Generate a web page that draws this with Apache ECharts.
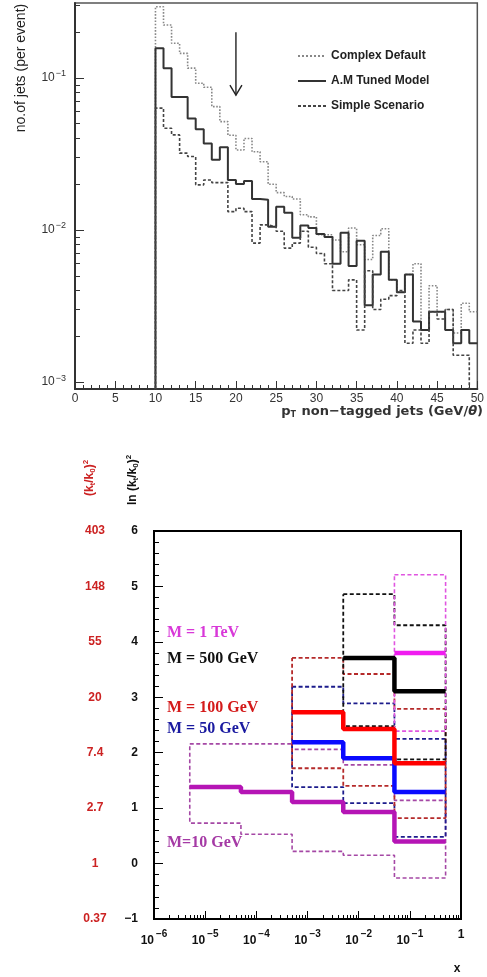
<!DOCTYPE html>
<html>
<head>
<meta charset="utf-8">
<script src="https://cdn.jsdelivr.net/npm/echarts@6/dist/echarts.min.js"></script>
<style>
  html, body { margin: 0; padding: 0; background: #fff; }
  #chart { width: 487px; height: 977px; }
</style>
</head>
<body>
<div id="chart"></div>
<script>
// ---- top panel: pT of non-tagged jets, 1 GeV bins starting at 10 GeV
const ptStart = 10;
const ptBinWidth = 1;
const seriesNames = ['Complex Default', 'A.M Tuned Model', 'Simple Scenario'];
const complexDefault = [0.294, 0.223, 0.169, 0.145, 0.116, 0.0923, 0.0869, 0.0648, 0.0516, 0.042,
  0.0336, 0.040, 0.0327, 0.0281, 0.020, 0.0176, 0.0166, 0.016, 0.0126, 0.0122,
  0.0093, 0.0093, 0.0086, 0.0072, 0.0103, 0.0080, 0.0064, 0.0092, 0.0102, 0.0047,
  0.0039, 0.0051, 0.0060, 0.0022, 0.0043, 0.0029, 0.0030, 0.0021, 0.0033, 0.0029];
const tunedModel = [0.157, 0.116, 0.075, 0.075, 0.054, 0.046, 0.037, 0.029, 0.035, 0.0213,
  0.0201, 0.021, 0.016, 0.0158, 0.0105, 0.0142, 0.013, 0.0089, 0.0107, 0.0103,
  0.0094, 0.0090, 0.0060, 0.0096, 0.0058, 0.0085, 0.0032, 0.0051, 0.0072, 0.0047,
  0.0039, 0.0051, 0.0025, 0.0022, 0.0029, 0.0029, 0.0022, 0.0018, 0.0022, 0.0018];
const simpleScenario = [0.0633, 0.0467, 0.0422, 0.032, 0.0304, 0.0198, 0.0213, 0.0205, 0.0205, 0.0132,
  0.0139, 0.0132, 0.0082, 0.0108, 0.0105, 0.0098, 0.0076, 0.0082, 0.0098, 0.0077,
  0.0070, 0.0060, 0.0040, 0.0040, 0.0047, 0.0022, 0.0054, 0.0030, 0.0035, 0.0037,
  0.0040, 0.0018, 0.0022, 0.0018, 0.0029, 0.0026, 0.0030, 0.0015, 0.0015, 0.0005];
const emptyBin = 1e-4;           // empty bins lie below the axis
const arrowMark = [20, 0.2, 0.077]; // x, tail, tip

// ---- bottom panel: ln(kt/k0)^2 vs x, bins are decades shifted by 5
const xEdges = [5e-6, 5e-5, 5e-4, 5e-3, 5e-2, 0.5];
const m10Centre = [1.38, 1.29, 1.11, 0.93, 0.40];
const m10Upper = [2.16, 2.16, 2.06, 1.78, 1.14];
const m10Lower = [0.73, 0.53, 0.22, 0.15, -0.26];
const m50Centre = [null, null, 2.19, 1.90, 1.29];
const m50Upper = [null, null, 3.19, 2.89, 2.25];
const m50Lower = [null, null, 1.38, 1.09, 0.48];
const m100Centre = [null, null, 2.73, 2.43, 1.81];
const m100Upper = [null, null, 3.71, 3.42, 2.79];
const m100Lower = [null, null, 1.72, 1.40, 0.82];
const m500Centre = [null, null, null, 3.71, 3.11];
const m500Upper = [null, null, null, 4.86, 4.30];
const m500Lower = [null, null, null, 2.48, 1.88];
const m1000Centre = [null, null, null, null, 3.80];
const m1000Upper = [null, null, null, null, 5.21];
const m1000Lower = [null, null, null, null, 2.39];
const expLabels = ['0.37', '1', '2.7', '7.4', '20', '55', '148', '403'];

// ---- helpers
function histPoints(values) {
  const pts = [[ptStart, emptyBin]];
  values.forEach((v, i) => pts.push([ptStart + i * ptBinWidth, v]));
  pts.push([ptStart + values.length * ptBinWidth, values[values.length - 1]]);
  return pts;
}
function centrePoints(vals) {
  const pts = [];
  let last = 0;
  vals.forEach((v, i) => { if (v != null) { pts.push([xEdges[i], v]); last = i; } });
  pts.push([xEdges[last + 1], vals[last]]);
  return pts;
}
function bandPoints(up, lo) {
  const idx = [];
  up.forEach((v, i) => { if (v != null) idx.push(i); });
  const pts = [];
  idx.forEach(i => pts.push([xEdges[i], up[i]], [xEdges[i + 1], up[i]]));
  idx.slice().reverse().forEach(i => pts.push([xEdges[i + 1], lo[i]], [xEdges[i], lo[i]]));
  pts.push([xEdges[idx[0]], up[idx[0]]]);
  return pts;
}
function decades(lo, hi) {
  const out = [];
  for (let e = lo; e <= hi; e++) out.push(Math.pow(10, e));
  return out;
}
function minors(lo, hi) {
  const out = [];
  for (let e = lo; e <= hi; e++) for (let k = 2; k <= 9; k++) out.push(k * Math.pow(10, e));
  return out;
}
function powLabel(v) {
  const e = Math.round(Math.log10(v));
  return e === 0 ? '{b|1}' : '{b|10}{e|' + String(e).replace('-', '\u2212') + '}';
}

const SANS = 'Liberation Sans';
const WIDE = 'DejaVu Sans';
const topMin = 0.0009, topMax = 0.311;

const chart = echarts.init(document.getElementById('chart'));

function band(up, lo, color, width) {
  return {
    type: 'line', xAxisIndex: 1, yAxisIndex: 2, data: bandPoints(up, lo),
    symbol: 'none', z: 2, silent: true,
    lineStyle: { color: color, width: width || 1.8, type: [4, 2.5] }
  };
}
function centre(vals, color) {
  return {
    type: 'line', xAxisIndex: 1, yAxisIndex: 2, data: centrePoints(vals),
    step: 'end', symbol: 'none', z: 3, silent: true,
    lineStyle: { color: color, width: 4.5 }
  };
}

const option = {
  animation: false,
  backgroundColor: '#fff',
  grid: [
    { left: 75, top: 3, width: 408, height: 386, show: true, borderColor: '#555', borderWidth: 1.5 },
    { left: 154, top: 531, width: 307, height: 388, show: true, borderColor: '#000', borderWidth: 2 }
  ],
  legend: {
    data: seriesNames, orient: 'vertical', left: 292, top: 45,
    itemWidth: 28, itemHeight: 8, itemGap: 13,
    itemStyle: { opacity: 0 },
    textStyle: { fontFamily: SANS, fontWeight: 'bold', fontSize: 12, color: '#222' }
  },
  xAxis: [
    {
      gridIndex: 0, type: 'value', min: 0, max: 50, interval: 5, position: 'bottom',
      axisLine: { onZero: false, lineStyle: { color: '#333', width: 2 } },
      axisTick: { inside: true, length: 8, lineStyle: { color: '#333' } },
      minorTick: { show: true, splitNumber: 5, length: 4, lineStyle: { color: '#333' } },
      axisLabel: { fontFamily: SANS, fontSize: 12, color: '#333', margin: 4 },
      splitLine: { show: false }
    },
    {
      gridIndex: 1, type: 'log', logBase: 10, min: 1e-6, max: 1, position: 'bottom',
      axisLine: { onZero: false, lineStyle: { color: '#000', width: 2 } },
      axisTick: { inside: true, length: 8, customValues: decades(-6, 0), lineStyle: { color: '#000' } },
      axisLabel: {
        customValues: decades(-6, 0), formatter: powLabel, margin: 10,
        rich: {
          b: { fontFamily: SANS, fontWeight: 'bold', fontSize: 12, color: '#111' },
          e: { fontFamily: SANS, fontWeight: 'bold', fontSize: 10, color: '#111', padding: [0, 0, 14, 2] }
        }
      },
      splitLine: { show: false }
    },
    {
      gridIndex: 1, type: 'log', logBase: 10, min: 1e-6, max: 1, position: 'bottom',
      axisLine: { show: false, onZero: false },
      axisTick: { inside: true, length: 4, customValues: minors(-6, -1), lineStyle: { color: '#000' } },
      axisLabel: { show: false },
      splitLine: { show: false }
    }
  ],
  yAxis: [
    {
      gridIndex: 0, type: 'log', logBase: 10, min: topMin, max: topMax, position: 'left',
      axisLine: { show: true, onZero: false, lineStyle: { color: '#333', width: 2 } },
      axisTick: { show: true, inside: true, length: 9, customValues: decades(-3, -1), lineStyle: { color: '#333' } },
      axisLabel: {
        customValues: decades(-3, -1), formatter: powLabel, margin: 9,
        rich: {
          b: { fontFamily: SANS, fontSize: 12, color: '#333' },
          e: { fontFamily: SANS, fontSize: 9, color: '#333', padding: [0, 0, 8, 1] }
        }
      },
      splitLine: { show: false }
    },
    {
      gridIndex: 0, type: 'log', logBase: 10, min: topMin, max: topMax, position: 'left',
      axisLine: { show: false, onZero: false },
      axisTick: { show: true, inside: true, length: 5, customValues: minors(-4, -1), lineStyle: { color: '#333' } },
      axisLabel: { show: false },
      splitLine: { show: false }
    },
    {
      gridIndex: 1, type: 'value', min: -1, max: 6, interval: 1, position: 'left',
      axisLine: { show: true, onZero: false, lineStyle: { color: '#000', width: 2 } },
      axisTick: { show: true, inside: true, length: 9, lineStyle: { color: '#000' } },
      minorTick: { show: true, splitNumber: 5, length: 5, lineStyle: { color: '#000' } },
      axisLabel: {
        fontFamily: SANS, fontWeight: 'bold', fontSize: 12, color: '#111', margin: 16,
        formatter: v => String(v).replace('-', '\u2212')
      },
      splitLine: { show: false }
    },
    {
      gridIndex: 1, type: 'value', min: -1, max: 6, interval: 1, position: 'left',
      axisLine: { show: false, onZero: false }, axisTick: { show: false },
      axisLabel: {
        fontFamily: SANS, fontWeight: 'bold', fontSize: 12, color: '#cc2222',
        margin: 59, align: 'center',
        formatter: v => expLabels[v + 1]
      },
      splitLine: { show: false }
    }
  ],
  series: [
    {
      name: seriesNames[0], type: 'line', xAxisIndex: 0, yAxisIndex: 0,
      data: histPoints(complexDefault), step: 'end', symbol: 'none',
      lineStyle: { color: '#888', width: 1.6, type: 'dotted' }
    },
    {
      name: seriesNames[1], type: 'line', xAxisIndex: 0, yAxisIndex: 0,
      data: histPoints(tunedModel), step: 'end', symbol: 'none', z: 3,
      lineStyle: { color: '#333', width: 2 }
    },
    {
      name: seriesNames[2], type: 'line', xAxisIndex: 0, yAxisIndex: 0,
      data: histPoints(simpleScenario), step: 'end', symbol: 'none',
      lineStyle: { color: '#444', width: 1.6, type: [3, 2] }
    },
    {
      type: 'custom', xAxisIndex: 0, yAxisIndex: 0, data: [arrowMark], silent: true,
      encode: { x: 0, y: [1, 2] },
      renderItem: (params, api) => {
        const tail = api.coord([api.value(0), api.value(1)]);
        const tip = api.coord([api.value(0), api.value(2)]);
        return {
          type: 'group', children: [
            { type: 'line', shape: { x1: tail[0], y1: tail[1], x2: tip[0], y2: tip[1] },
              style: { stroke: '#222', lineWidth: 1.4 } },
            { type: 'polyline', shape: { points: [[tip[0] - 6, tip[1] - 10], tip, [tip[0] + 6, tip[1] - 10]] },
              style: { stroke: '#222', fill: null, lineWidth: 1.4 } }
          ]
        };
      }
    },
    band(m10Upper, m10Lower, '#a548a5', 1.6),
    band(m50Upper, m50Lower, '#1c1c8c'),
    band(m100Upper, m100Lower, '#b52a2a'),
    band(m500Upper, m500Lower, '#111'),
    band(m1000Upper, m1000Lower, '#e055e0', 1.6),
    centre(m10Centre, '#b515b5'),
    centre(m50Centre, '#0a0aff'),
    centre(m100Centre, '#ff0000'),
    centre(m500Centre, '#000'),
    centre(m1000Centre, '#f01cf0')
  ],
  graphic: [
    { type: 'text', x: 21, y: 68, rotation: Math.PI / 2,
      style: { text: 'no.of jets (per event)', align: 'center', verticalAlign: 'middle',
        fontFamily: SANS, fontSize: 14, fill: '#222' } },
    { type: 'text', x: 483, y: 412,
      style: { text: '{n|p}{s|T}{n| non\u2212tagged jets (GeV/}{i|\u03b8}{n|)}', align: 'right', verticalAlign: 'middle',
        rich: {
          n: { fontFamily: WIDE, fontWeight: 'bold', fontSize: 13, fill: '#333' },
          s: { fontFamily: WIDE, fontWeight: 'bold', fontSize: 8, fill: '#333', padding: [6, 1, 0, 0] },
          i: { fontFamily: WIDE, fontWeight: 'bold', fontStyle: 'italic', fontSize: 13, fill: '#333' }
        } } },
    { type: 'text', x: 90, y: 478, rotation: Math.PI / 2,
      style: { text: '{n|(k}{s|t}{n|/k}{s|0}{n|)}{p|2}', align: 'center', verticalAlign: 'middle',
        rich: {
          n: { fontFamily: SANS, fontWeight: 'bold', fontSize: 12, fill: '#cc2222' },
          s: { fontFamily: SANS, fontWeight: 'bold', fontSize: 8, fill: '#cc2222', padding: [6, 0, 0, 0] },
          p: { fontFamily: SANS, fontWeight: 'bold', fontSize: 8, fill: '#cc2222', padding: [0, 0, 8, 0] }
        } } },
    { type: 'text', x: 133, y: 480, rotation: Math.PI / 2,
      style: { text: '{n|ln (k}{s|t}{n|/k}{s|0}{n|)}{p|2}', align: 'center', verticalAlign: 'middle',
        rich: {
          n: { fontFamily: SANS, fontWeight: 'bold', fontSize: 12, fill: '#111' },
          s: { fontFamily: SANS, fontWeight: 'bold', fontSize: 8, fill: '#111', padding: [6, 0, 0, 0] },
          p: { fontFamily: SANS, fontWeight: 'bold', fontSize: 8, fill: '#111', padding: [0, 0, 8, 0] }
        } } },
    { type: 'text', x: 457, y: 969,
      style: { text: 'x', align: 'center', verticalAlign: 'middle',
        fontFamily: SANS, fontWeight: 'bold', fontSize: 12, fill: '#111' } },
    { type: 'text', x: 167, y: 633,
      style: { text: 'M = 1 TeV', verticalAlign: 'middle', fontFamily: 'Liberation Serif', fontWeight: 'bold', fontSize: 16, fill: '#d838d8' } },
    { type: 'text', x: 167, y: 659,
      style: { text: 'M = 500 GeV', verticalAlign: 'middle', fontFamily: 'Liberation Serif', fontWeight: 'bold', fontSize: 16, fill: '#111' } },
    { type: 'text', x: 167, y: 708,
      style: { text: 'M = 100 GeV', verticalAlign: 'middle', fontFamily: 'Liberation Serif', fontWeight: 'bold', fontSize: 16, fill: '#d41a1a' } },
    { type: 'text', x: 167, y: 729,
      style: { text: 'M = 50 GeV', verticalAlign: 'middle', fontFamily: 'Liberation Serif', fontWeight: 'bold', fontSize: 16, fill: '#1a1aa0' } },
    { type: 'text', x: 167, y: 843,
      style: { text: 'M=10 GeV', verticalAlign: 'middle', fontFamily: 'Liberation Serif', fontWeight: 'bold', fontSize: 16, fill: '#a53aa5' } }
  ]
};

chart.setOption(option);
</script>
</body>
</html>
